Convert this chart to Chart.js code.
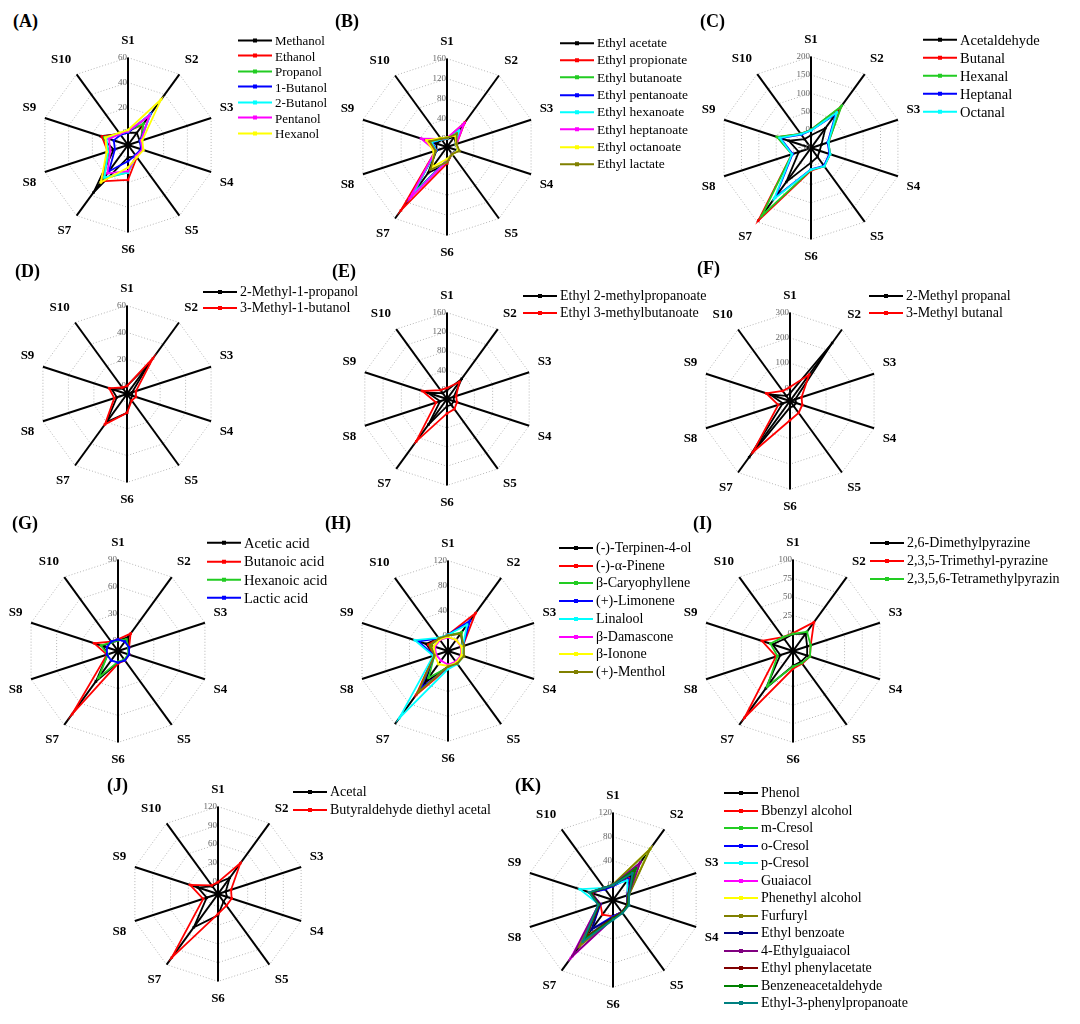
<!DOCTYPE html>
<html lang="en">
<head>
<meta charset="UTF-8" />
<script src="https://cdn.jsdelivr.net/npm/chart.js@4.4.0/dist/chart.umd.min.js"></script>
<title>Radar charts S1-S10</title>
<style>
  body { margin: 0; background: #fff; }
  #page { position: relative; width: 1080px; height: 1024px; overflow: hidden; font-family: "Liberation Serif", serif; }
  canvas { position: absolute; }
  .tag { position: absolute; font-weight: bold; font-size: 18px; line-height: 1; }
  .item { position: absolute; white-space: nowrap; display: flex; align-items: center; line-height: 1; transform: translateY(-50%); }
  .swatch { position: relative; width: 34px; height: 2px; margin-right: 3px; }
  .swatch i { position: absolute; left: 15px; top: -1px; width: 4px; height: 4px; background: inherit; }
</style>
</head>
<body>
<div id="page"></div>
<script>
const axes = ["S1", "S2", "S3", "S4", "S5", "S6", "S7", "S8", "S9", "S10"];
const colors = ["#000000", "#ff0000", "#22cc22", "#0000ff", "#00ffff", "#ff00ff", "#ffff00",
  "#808000", "#000080", "#800080", "#800000", "#008000", "#008080"];

// (A)
const aNames = ["Methanol", "Ethanol", "Propanol", "1-Butanol", "2-Butanol", "Pentanol", "Hexanol"];
const aValues = [
  [0, 2, 0, 2, 1, 0, 37, 2, 13, 1],
  [1, 10, 1, 2, 2, 18, 26, 7, 12, 1],
  [1, 11, 1, 2, 1, 12, 23, 6, 10, 1],
  [0, 21, 0, 1, 0, 3, 16, 1, 2, 0],
  [1, 20, 1, 2, 1, 12, 22, 7, 8, 1],
  [1, 19, 1, 2, 1, 11, 18, 5, 6, 1],
  [2, 35, 2, 3, 2, 8, 27, 8, 9, 2]
];
const aTicks = [0, 20, 40, 60];

// (B)
const bNames = ["Ethyl acetate", "Ethyl propionate", "Ethyl butanoate", "Ethyl pentanoate",
  "Ethyl hexanoate", "Ethyl heptanoate", "Ethyl octanoate", "Ethyl lactate"];
const bValues = [
  [0, 8, 3, 6, 0, 17, 48, 6, 6, 2],
  [1, 44, 4, 8, 1, 17, 140, 8, 22, 3],
  [1, 25, 3, 7, 1, 12, 94, 7, 16, 3],
  [1, 20, 3, 6, 1, 10, 105, 6, 14, 3],
  [1, 24, 3, 7, 1, 12, 100, 7, 16, 3],
  [2, 42, 4, 8, 1, 12, 110, 8, 38, 4],
  [3, 12, 3, 7, 2, 8, 33, 12, 27, 6],
  [2, 17, 4, 10, 1, 14, 40, 8, 20, 4]
];
const bTicks = [0, 40, 80, 120, 160];

// (C)
const cNames = ["Acetaldehyde", "Butanal", "Hexanal", "Heptanal", "Octanal"];
const cValues = [
  [-15, 17, -20, -25, -20, -10, 65, -15, 14, -20],
  [0, 88, 0, 5, 12, 12, 195, 5, 46, -2],
  [0, 92, 0, 5, 12, 10, 179, 5, 48, -2],
  [-2, 65, -2, 3, 10, 8, 117, 3, 38, -5],
  [-2, 70, 0, 5, 12, 9, 122, 5, 40, -3]
];
const cTicks = [-50, 0, 50, 100, 150, 200];

// (D)
const dNames = ["2-Methyl-1-propanol", "3-Methyl-1-butanol"];
const dValues = [
  [0, 22, -2, -2, -1, 8, 20, 2, 6, -1],
  [0, 27, 1, 1, 0, 8, 22, 4, 8, 0]
];
const dTicks = [0, 20, 40, 60];

// (E)
const eNames = ["Ethyl 2-methylpropanoate", "Ethyl 3-methylbutanoate"];
const eValues = [
  [-2, 32, -5, -5, -5, -5, 46, -5, 22, -5],
  [3, 24, 0, 2, 6, 10, 89, 4, 34, 3]
];
const eTicks = [0, 40, 80, 120, 160];

// (F)
const fNames = ["2-Methyl propanal", "3-Methyl butanal"];
const fValues = [
  [-20, 234, -28, -25, -25, -25, 225, -20, 33, -25],
  [5, 79, -2, 1, 8, 26, 200, -1, 49, -1]
];
const fTicks = [0, 100, 200, 300];

// (G)
const gNames = ["Acetic acid", "Butanoic acid", "Hexanoic acid", "Lactic acid"];
const gValues = [
  [0, 7, 0, 1, 0, 1, 30, 0, 6, 0],
  [1, 12, 1, 1, 1, 2, 75, 1, 16, 1],
  [0, 4, 0, 0, 0, 0, 25, 0, 8, 0],
  [1, 1, 1, 1, 1, 1, 1, 1, 1, 1]
];
const gTicks = [0, 30, 60, 90];

// (H)
const hNames = ["(-)-Terpinen-4-ol", "(-)-\u03b1-Pinene", "\u03b2-Caryophyllene", "(+)-Limonene",
  "Linalool", "\u03b2-Damascone", "\u03b2-Ionone", "(+)-Menthol"];
const hValues = [
  [0, 10, 0, 0, 0, 0, 38, -2, 12, 0],
  [1, 50, 0, 1, 0, 2, 62, -1, 8, 0],
  [0, 12, 0, 0, 0, 1, 28, -2, 5, 0],
  [1, 35, 0, 0, 0, 1, 50, -2, 25, 0],
  [1, 27, 0, 1, 1, 4, 108, 0, 31, 1],
  [-3, -3, -3, -3, -4, -3, -6, -5, -3, -3],
  [-2, -3, -2, -2, -2, -1, 1, -3, -1, -2],
  [0, 9, 2, 2, 0, 0, 57, -2, 4, 0]
];
const hTicks = [0, 40, 80, 120];

// (I)
const iNames = ["2,6-Dimethylpyrazine", "2,3,5-Trimethyl-pyrazine", "2,3,5,6-Tetramethylpyrazin"];
const iValues = [
  [0, 6, -3, -3, -5, -3, 39, -5, 6, -3],
  [1, 25, 2, 1, -2, 1, 88, 1, 21, 0],
  [0, 9, 2, 1, -3, -2, 36, -1, 9, 0]
];
const iTicks = [0, 25, 50, 75, 100];

// (J)
const jNames = ["Acetal", "Butyraldehyde diethyl acetal"];
const jValues = [
  [-2, 12, -7, -5, -5, 14, 46, -1, 14, -5],
  [-1, 41, 2, 3, 3, 12, 106, 5, 27, -3]
];
const jTicks = [0, 30, 60, 90, 120];

// (K)
const kNames = ["Phenol", "Bbenzyl alcohol", "m-Cresol", "o-Cresol", "p-Cresol", "Guaiacol",
  "Phenethyl alcohol", "Furfuryl", "Ethyl benzoate", "4-Ethylguaiacol", "Ethyl phenylacetate",
  "Benzeneacetaldehyde", "Ethyl-3-phenylpropanoate"];
const kValues = [
  [0, 25, 0, 0, 0, 2, 55, -2, 14, -2],
  [0, 20, 0, 0, 0, 2, 5, -3, 12, -2],
  [0, 78, 2, 1, 1, 5, 60, -1, 15, 0],
  [-2, 18, 0, 0, 0, 2, 35, -3, 14, -3],
  [0, 15, 1, 0, 0, 4, 50, -1, 33, 0],
  [0, 50, 2, 1, 1, 6, 94, 0, 16, 0],
  [1, 80, 2, 1, 1, 5, 65, 0, 15, 0],
  [1, 80, 3, 2, 1, 6, 70, 0, 16, 0],
  [-1, 30, 1, 0, 0, 4, 35, -2, 13, -1],
  [0, 52, 2, 1, 1, 6, 90, 0, 15, 0],
  [0, 35, 1, 0, 0, 5, 50, -1, 14, 0],
  [0, 40, 2, 1, 1, 6, 55, 0, 15, 0],
  [0, 30, 3, 3, 2, 8, 60, 1, 17, 0]
];
const kTicks = [0, 40, 80, 120];

const panels = [
  { tag: "(A)", names: aNames, values: aValues, ticks: aTicks, min: -10, cx: 128, cy: 145, r: 88, tx: 13, ty: 12, lx: 238, ly: 40, ldy: 15.5, lfs: 13 },
  { tag: "(B)", names: bNames, values: bValues, ticks: bTicks, min: -16, cx: 447, cy: 147, r: 89, tx: 335, ty: 12, lx: 560, ly: 43, ldy: 17.3, lfs: 13.5 },
  { tag: "(C)", names: cNames, values: cValues, ticks: cTicks, min: -50, cx: 811, cy: 148, r: 92, tx: 700, ty: 12, lx: 923, ly: 40, ldy: 18, lfs: 14.5 },
  { tag: "(D)", names: dNames, values: dValues, ticks: dTicks, min: -6, cx: 127, cy: 394, r: 89, tx: 15, ty: 262, lx: 203, ly: 292, ldy: 16, lfs: 14 },
  { tag: "(E)", names: eNames, values: eValues, ticks: eTicks, min: -20, cx: 447, cy: 399, r: 87, tx: 332, ty: 262, lx: 523, ly: 296, ldy: 16.5, lfs: 14 },
  { tag: "(F)", names: fNames, values: fValues, ticks: fTicks, min: -50, cx: 790, cy: 401, r: 89, tx: 697, ty: 259, lx: 869, ly: 296, ldy: 17, lfs: 14 },
  { tag: "(G)", names: gNames, values: gValues, ticks: gTicks, min: -12, cx: 118, cy: 651, r: 92, tx: 12, ty: 514, lx: 207, ly: 543, ldy: 18.3, lfs: 14.5 },
  { tag: "(H)", names: hNames, values: hValues, ticks: hTicks, min: -25, cx: 448, cy: 651, r: 91, tx: 325, ty: 514, lx: 559, ly: 548, ldy: 17.7, lfs: 14 },
  { tag: "(I)", names: iNames, values: iValues, ticks: iTicks, min: -23, cx: 793, cy: 651, r: 92, tx: 693, ty: 514, lx: 870, ly: 543, ldy: 18, lfs: 14 },
  { tag: "(J)", names: jNames, values: jValues, ticks: jTicks, min: -20, cx: 218, cy: 894, r: 88, tx: 107, ty: 776, lx: 293, ly: 792, ldy: 17.5, lfs: 14 },
  { tag: "(K)", names: kNames, values: kValues, ticks: kTicks, min: -25, cx: 613, cy: 900, r: 88, tx: 515, ty: 776, lx: 724, ly: 793, ldy: 17.5, lfs: 14 }
];

// tick numbers sit just left of the S1 axis
const tickText = {
  id: "tickText",
  beforeDatasetsDraw(chart, args, opts) {
    const s = chart.scales.r;
    const ctx = chart.ctx;
    ctx.save();
    ctx.font = '9px "Liberation Serif"';
    ctx.fillStyle = "#666";
    ctx.textAlign = "right";
    ctx.textBaseline = "middle";
    opts.values.forEach((v) => {
      const d = s.getDistanceFromCenterForValue(v);
      ctx.fillText(String(v), s.xCenter - 1, s.yCenter - d);
    });
    ctx.restore();
  }
};

const page = document.getElementById("page");
const labelSize = 13;

panels.forEach((p) => {
  const pad = 9, lh = labelSize * 1.2;
  const h = Math.round(2 * (p.r + pad + lh));
  const w = h + 60;
  const canvas = document.createElement("canvas");
  canvas.width = w;
  canvas.height = h;
  canvas.style.left = Math.round(p.cx - w / 2) + "px";
  canvas.style.top = Math.round(p.cy - h / 2) + "px";
  page.appendChild(canvas);

  new Chart(canvas, {
    type: "radar",
    data: {
      labels: axes,
      datasets: p.names.map((n, i) => ({
        label: n,
        data: p.values[i],
        borderColor: colors[i],
        backgroundColor: colors[i],
        borderWidth: 1.8,
        pointStyle: "rect",
        pointRadius: 1.8,
        pointBorderWidth: 0,
        fill: false,
        tension: 0,
        order: -i
      }))
    },
    options: {
      responsive: false,
      animation: false,
      devicePixelRatio: 1,
      layout: { padding: 0 },
      plugins: {
        legend: { display: false },
        tooltip: { enabled: false },
        tickText: { values: p.ticks }
      },
      scales: {
        r: {
          min: p.min,
          max: p.ticks[p.ticks.length - 1],
          ticks: { display: false, stepSize: p.ticks[1] - p.ticks[0] },
          grid: { color: "#b5b5b5", lineWidth: 1 },
          border: { dash: [1, 2] },
          angleLines: { color: "#000", lineWidth: 2 },
          pointLabels: {
            font: { family: "Liberation Serif", size: labelSize, weight: "bold" },
            color: "#000",
            padding: pad
          }
        }
      }
    },
    plugins: [tickText]
  });

  const tag = document.createElement("div");
  tag.className = "tag";
  tag.textContent = p.tag;
  tag.style.left = p.tx + "px";
  tag.style.top = p.ty + "px";
  page.appendChild(tag);

  p.names.forEach((n, i) => {
    const item = document.createElement("div");
    item.className = "item";
    item.style.left = p.lx + "px";
    item.style.top = (p.ly + i * p.ldy) + "px";
    item.style.fontSize = p.lfs + "px";
    const sw = document.createElement("span");
    sw.className = "swatch";
    sw.style.background = colors[i];
    sw.appendChild(document.createElement("i"));
    item.appendChild(sw);
    item.appendChild(document.createTextNode(n));
    page.appendChild(item);
  });
});
</script>
</body>
</html>
